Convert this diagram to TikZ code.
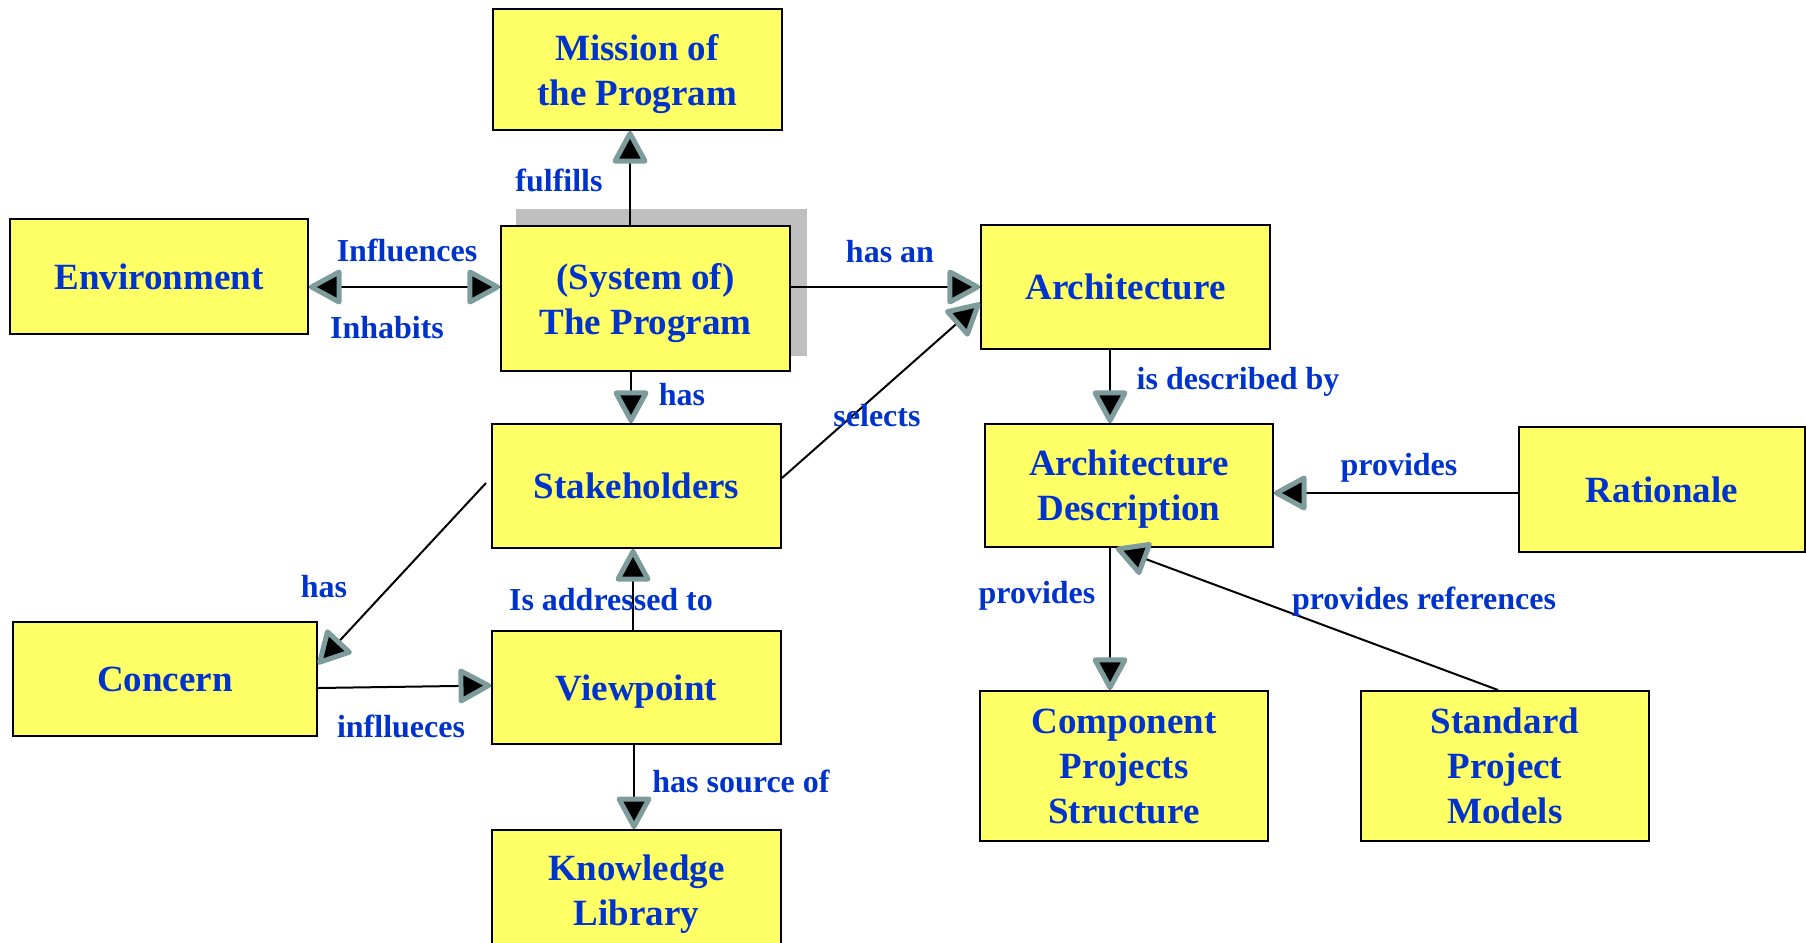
\documentclass[tikz,border=0pt]{standalone}
\usepackage{fontspec}
\setmainfont{Liberation Serif}
\usetikzlibrary{decorations.markings,backgrounds}
\definecolor{boxyellow}{HTML}{FFFF66}
\definecolor{txtblue}{HTML}{0033CC}
\definecolor{tipgray}{HTML}{7F9C9C}
\definecolor{shadowgray}{HTML}{BFBFBF}
\newcommand{\tipfwd}{\filldraw[draw=tipgray, fill=black, line width=5pt, line join=round]
  (-2.5pt,0pt) -- (-30pt,15pt) -- (-30pt,-15pt) -- cycle;}
\newcommand{\tipback}{\filldraw[draw=tipgray, fill=black, line width=5pt, line join=round]
  (2.5pt,0pt) -- (30pt,15pt) -- (30pt,-15pt) -- cycle;}
\tikzset{
  box/.style={draw=black, line width=2pt, fill=boxyellow, inner sep=0pt, align=center,
    font=\fontsize{37}{45}\selectfont\bfseries, text=txtblue, minimum width=289pt, text depth=0pt},
  lbl/.style={font=\fontsize{32}{37}\selectfont\bfseries, text=txtblue, inner sep=0pt,
    text height=22pt, text depth=0pt},
  conn/.style={draw=black, line width=2pt,
    postaction={decorate, decoration={markings, mark=at position 0.9999 with {\tipfwd}}}},
  conntwo/.style={draw=black, line width=2pt,
    postaction={decorate, decoration={markings,
      mark=at position 0.0001 with {\tipback},
      mark=at position 0.9999 with {\tipfwd}}}},
}
\begin{document}
\begin{tikzpicture}[x=1pt,y=-1pt]
\useasboundingbox (0,0) rectangle (1806,942);
\clip (0,0) rectangle (1806,942);

% boxes
\node[box, minimum height=121pt] (mission) at (637,69.5) {Mission of\\the Program};
\node[box, minimum width=298pt, minimum height=115pt] (env) at (159,276.5) {Environment};
\node[box, minimum height=145pt] (sys) at (645.5,298.5) {(System of)\\The Program};
\node[box, minimum height=124pt] (arch) at (1125.5,287) {Architecture};
\node[box, minimum height=124pt] (stake) at (636.5,486) {Stakeholders};
\node[box, minimum width=288pt, minimum height=123pt] (ad) at (1129,485.5) {Architecture\\Description};
\node[box, minimum width=286pt, minimum height=125pt] (rat) at (1662,489.5) {Rationale};
\node[box, minimum width=304pt, minimum height=114pt] (concern) at (165,679) {Concern};
\node[box, minimum height=113pt] (view) at (636.5,687.5) {Viewpoint};
\node[box, minimum height=120pt] (kl) at (636.5,890) {Knowledge\\Library};
\node[box, minimum width=288pt, minimum height=150pt] (comp) at (1124,766) {Component\\Projects\\Structure};
\node[box, minimum width=288pt, minimum height=150pt] (std) at (1505,766) {Standard\\Project\\Models};

% shadow of the program box
\begin{scope}[on background layer]
\fill[shadowgray] ([shift={(16pt,16pt)}]sys.south west) rectangle ([shift={(16pt,16pt)}]sys.north east);
\end{scope}

% connectors
\draw[conn] ([xshift=-15.5pt]sys.north) -- ([xshift=-15.5pt]sys.north |- mission.south);
\draw[conntwo] (env.east |- arch.west) -- (sys.west |- arch.west);
\draw[conn] (sys.east |- arch.west) -- (arch.west);
\draw[conn] ([xshift=-14.5pt]sys.south) -- ([xshift=-14.5pt]sys.south |- stake.north);
\draw[conn] ([yshift=8pt]stake.east) -- ([yshift=-16pt]arch.west);
\draw[conn] ([xshift=-5pt,yshift=3pt]stake.west) -- ([yshift=15pt]concern.east);
\draw[conn] ([yshift=-9pt]concern.east) -- ([yshift=2pt]view.west);
\draw[conn] ([xshift=-3.5pt]view.north) -- ([xshift=-3.5pt]view.north |- stake.south);
\draw[conn] ([xshift=-2.5pt]view.south) -- ([xshift=-2.5pt]view.south |- kl.north);
\draw[conn] ([xshift=-15.5pt]arch.south) -- ([xshift=-15.5pt]arch.south |- ad.north);
\draw[conn] ([yshift=-3.5pt]rat.west) -- ([yshift=-3.5pt]rat.west -| ad.east);
\draw[conn] ([xshift=-19pt]ad.south) -- ([xshift=-19pt]ad.south |- comp.north);
\draw[conn] ([xshift=-7pt]std.north) -- ([xshift=-13pt]ad.south);

% labels
\node[lbl] (l1) at (559,180) {fulfills};
\node[lbl] (l2) at (407,250) {Influences};
\node[lbl] (l3) at (387,327) {Inhabits};
\node[lbl] (l4) at (890,251) {has an};
\node[lbl] (l5) at (682,394) {has};
\node[lbl] (l6) at (877,415) {selects};
\node[lbl] (l7) at (324,586) {has};
\node[lbl] (l8) at (401,726) {infllueces};
\node[lbl] (l9) at (611,599) {Is addressed to};
\node[lbl] (l10) at (741,781) {has source of};
\node[lbl] (l11) at (1238,378) {is described by};
\node[lbl] (l12) at (1399,464) {provides};
\node[lbl] (l13) at (1037,592) {provides};
\node[lbl] (l14) at (1424,598) {provides references};
\end{tikzpicture}
\end{document}
